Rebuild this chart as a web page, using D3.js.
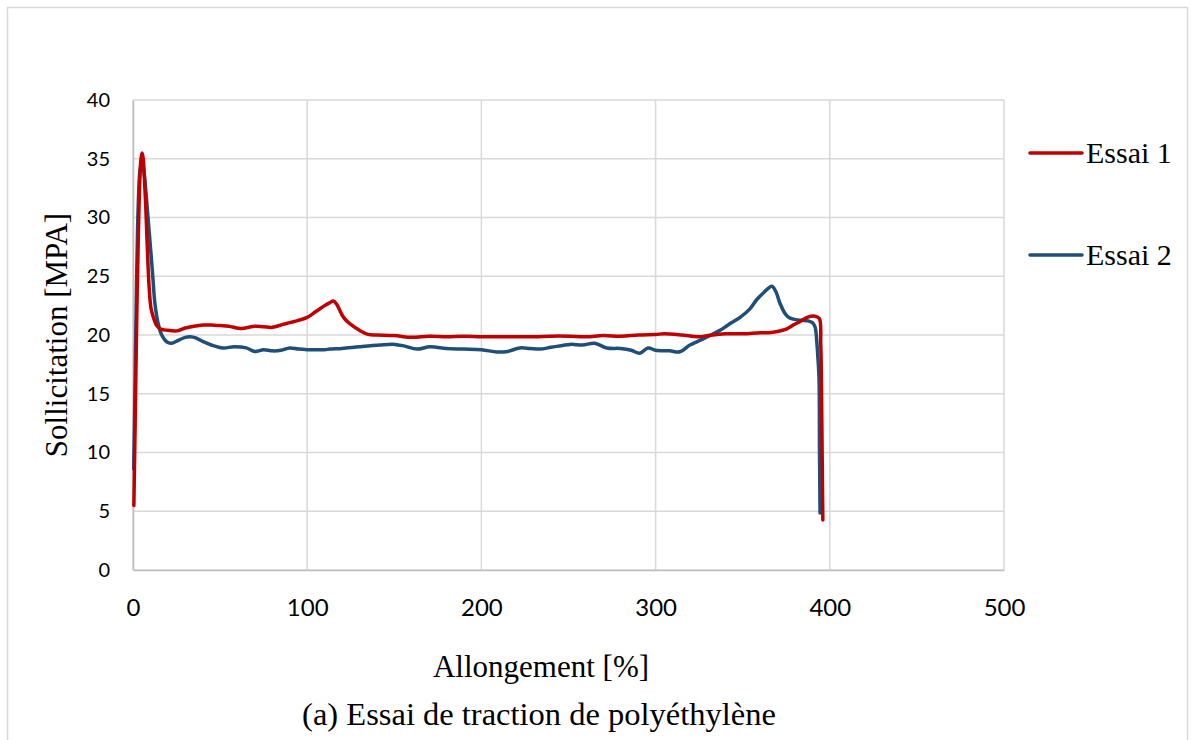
<!DOCTYPE html>
<html>
<head>
<meta charset="utf-8">
<script src="https://cdn.jsdelivr.net/npm/d3@7"></script>
<style>
  html, body { margin: 0; padding: 0; background: #fff; }
  svg { display: block; }
</style>
</head>
<body>
<svg id="chart" width="1191" height="740"></svg>
<script>
// Tensile test curves: elongation [%] vs stress [MPa]
const essai1X = [0.5, 1.2, 2, 3, 4, 4.6, 5.2, 5.8, 6.5, 7.3, 8.2, 9.2, 10.3, 11.5, 13.6, 16, 20, 25, 30, 35, 40, 45, 50, 55, 62, 70, 75, 80, 86, 90, 95, 100, 105, 110, 113, 115, 117, 120, 122, 125, 130, 135, 140, 150, 160, 170, 180, 190, 200, 215, 230, 240, 250, 260, 270, 280, 290, 300, 305, 315, 325, 330, 340, 350, 360, 365, 370, 375, 379, 383, 387, 391.5, 394, 394.8, 395.2, 395.6, 396];
const essai1Y = [5.5, 12, 20, 28, 33.5, 35, 35.5, 35.1, 33.5, 31, 27.5, 24.2, 22.3, 21.6, 20.8, 20.5, 20.4, 20.35, 20.6, 20.75, 20.85, 20.85, 20.8, 20.75, 20.55, 20.75, 20.7, 20.65, 20.9, 21.05, 21.25, 21.5, 22, 22.5, 22.75, 22.9, 22.6, 21.7, 21.3, 20.9, 20.4, 20.05, 20, 19.95, 19.8, 19.9, 19.85, 19.9, 19.85, 19.85, 19.85, 19.9, 19.9, 19.85, 19.95, 19.9, 20, 20.05, 20.1, 20, 19.85, 19.95, 20.1, 20.1, 20.2, 20.2, 20.3, 20.5, 20.85, 21.15, 21.5, 21.6, 21.4, 19.3, 16, 10, 4.25];

const essai2X = [0.4, 1, 2, 3, 4, 5, 6, 7.5, 9, 10.5, 11.5, 12.5, 14.4, 16.5, 19.5, 22, 26, 30, 33, 36, 40, 45, 51.7, 58, 65, 70, 75, 80, 85, 90, 95, 100, 110, 113, 120, 130, 141.8, 150.4, 156, 163, 170.5, 180, 189.5, 200, 209, 215, 222, 228, 233.6, 240, 251, 258, 265, 272, 280, 286, 291, 295.6, 300, 308, 314, 319.7, 327, 337, 342, 348.5, 354, 358, 362, 366.8, 369, 371.4, 374, 376, 379, 383, 387.5, 390, 391.5, 392.6, 393.2, 393.8, 394.1, 394.4];
const essai2Y = [8.6, 14, 24, 31, 34, 34.7, 34.2, 32, 29.3, 26.6, 24.7, 22.8, 21, 20, 19.4, 19.3, 19.55, 19.8, 19.85, 19.75, 19.45, 19.15, 18.9, 19, 18.9, 18.6, 18.75, 18.65, 18.7, 18.9, 18.8, 18.75, 18.75, 18.8, 18.85, 19, 19.15, 19.2, 19.05, 18.8, 19, 18.85, 18.8, 18.75, 18.55, 18.6, 18.9, 18.85, 18.8, 18.95, 19.2, 19.15, 19.3, 18.9, 18.85, 18.7, 18.45, 18.9, 18.7, 18.65, 18.57, 19.15, 19.65, 20.4, 20.9, 21.5, 22.2, 23, 23.6, 24.15, 23.7, 22.7, 21.9, 21.55, 21.35, 21.25, 21.2, 21.05, 20.7, 19.3, 18, 16.4, 10, 4.85];

const series = [
  { name: "Essai 1", color: "#c00000", xs: essai1X, ys: essai1Y },
  { name: "Essai 2", color: "#1f4e79", xs: essai2X, ys: essai2Y }
];

const xTicks = [0, 100, 200, 300, 400, 500];
const yTicks = [0, 5, 10, 15, 20, 25, 30, 35, 40];

const svg = d3.select("#chart");
const plot = { left: 133, right: 1004, top: 100, bottom: 570 };

const x = d3.scaleLinear().domain([0, 500]).range([plot.left, plot.right]);
const y = d3.scaleLinear().domain([0, 40]).range([plot.bottom, plot.top]);

const serif = "'Liberation Serif', 'Times New Roman', serif";
const sans = "Lato, 'Open Sans', sans-serif";

// outer chart frame
svg.append("rect")
  .attr("x", 7.5).attr("y", 7.5)
  .attr("width", 1180).attr("height", 760)
  .attr("fill", "#fff")
  .attr("stroke", "#d9d9d9").attr("stroke-width", 1.5);

// gridlines
const grid = svg.append("g");
grid.selectAll("line.h").data(yTicks).join("line")
  .attr("x1", plot.left).attr("x2", plot.right)
  .attr("y1", d => y(d)).attr("y2", d => y(d))
  .attr("stroke", "#d9d9d9").attr("stroke-width", 1.5);
grid.selectAll("line.v").data(xTicks).join("line")
  .attr("y1", plot.top).attr("y2", plot.bottom)
  .attr("x1", d => x(d)).attr("x2", d => x(d))
  .attr("stroke", "#d9d9d9").attr("stroke-width", 1.5);

// axes
const xAxis = svg.append("g").attr("transform", `translate(0,${plot.bottom})`)
  .call(d3.axisBottom(x).tickValues(xTicks).tickSize(0).tickPadding(29));
const yAxis = svg.append("g").attr("transform", `translate(${plot.left},0)`)
  .call(d3.axisLeft(y).tickValues(yTicks).tickSize(0).tickPadding(23));
[xAxis, yAxis].forEach(g => {
  g.select(".domain").attr("stroke", "#bfbfbf").attr("stroke-width", 1.5);
  g.selectAll("text").attr("font-family", sans).attr("fill", "#000");
});
xAxis.selectAll("text").attr("font-size", 24).attr("dy", "0.72em");
yAxis.selectAll("text").attr("font-size", 20);

// curves
const line = d3.line().x(d => x(d[0])).y(d => y(d[1])).curve(d3.curveCatmullRom.alpha(0.5));
series.slice().reverse().forEach(s => {
  const pts = s.xs.map((v, i) => [v, s.ys[i]]);
  svg.append("path").datum(pts)
    .attr("d", line)
    .attr("fill", "none")
    .attr("stroke", s.color)
    .attr("stroke-width", 3.5)
    .attr("stroke-linejoin", "round")
    .attr("stroke-linecap", "round");
});

// axis titles
svg.append("text")
  .attr("transform", `translate(67,335) rotate(-90)`)
  .attr("text-anchor", "middle")
  .attr("font-family", serif)
  .attr("font-size", 31).attr("fill", "#000")
  .text("Sollicitation [MPA]");
svg.append("text")
  .attr("x", 541).attr("y", 677)
  .attr("text-anchor", "middle")
  .attr("font-family", serif)
  .attr("font-size", 31).attr("fill", "#000")
  .text("Allongement [%]");
svg.append("text")
  .attr("x", 539).attr("y", 725)
  .attr("text-anchor", "middle")
  .attr("font-family", serif)
  .attr("font-size", 32.5).attr("fill", "#000")
  .text("(a) Essai de traction de polyéthylène");

// legend
const legend = svg.append("g");
const legendY = [153, 255];
series.forEach((s, i) => {
  legend.append("line")
    .attr("x1", 1030).attr("x2", 1082)
    .attr("y1", legendY[i]).attr("y2", legendY[i])
    .attr("stroke", s.color).attr("stroke-width", 3.5)
    .attr("stroke-linecap", "round");
  legend.append("text")
    .attr("x", 1086).attr("y", legendY[i] + 10)
    .attr("font-family", serif)
    .attr("font-size", 30).attr("fill", "#000")
    .text(s.name);
});
</script>
</body>
</html>
